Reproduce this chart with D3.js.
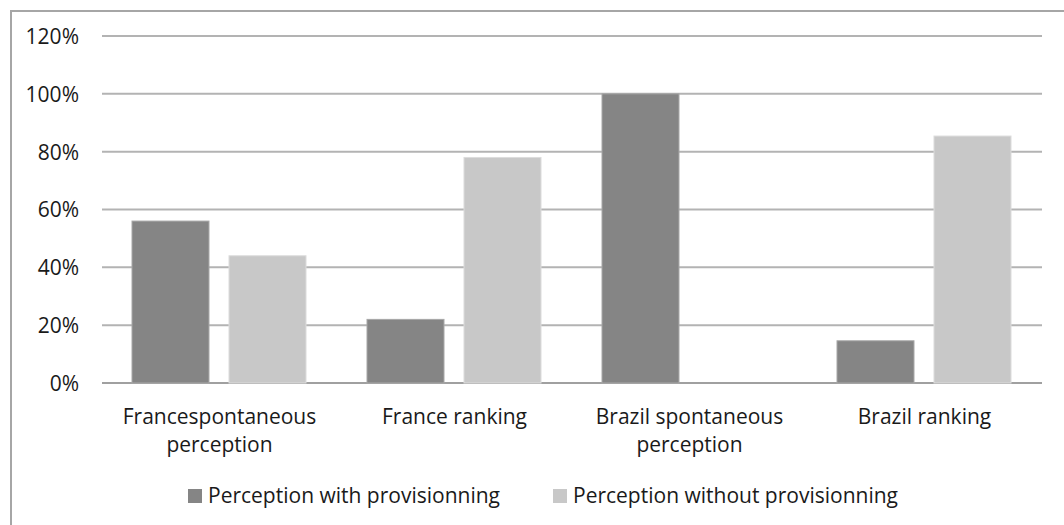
<!DOCTYPE html>
<html>
<head>
<meta charset="utf-8">
<script src="https://cdn.jsdelivr.net/npm/d3@7"></script>
<style>
html,body{margin:0;padding:0;background:#fff;}
svg{display:block;}
text{font-family:"Open Sans","Liberation Sans",sans-serif;fill:#1a1a1a;}
</style>
</head>
<body>
<svg id="chart" width="1064" height="525"></svg>
<script>
const categories = [["Francespontaneous","perception"],["France ranking"],["Brazil spontaneous","perception"],["Brazil ranking"]];
const withProv = [0.56, 0.22, 1.00, 0.146];
const withoutProv = [0.44, 0.78, 0.0, 0.854];
const seriesNames = ["Perception with provisionning","Perception without provisionning"];
const yTicks = [0,0.2,0.4,0.6,0.8,1.0,1.2];

(function(){
const svg = d3.select("#chart");
const colors = ["#858585","#c8c8c8"];
const strokes = ["#a8a8a8","#dcdcdc"];
const fs = 21;

// outer frame
svg.append("rect").attr("x",11).attr("y",11).attr("width",1080).attr("height",540)
  .attr("fill","none").attr("stroke","#a6a6a6").attr("stroke-width",2);

const pl=102, pr=1042, pt=36, pb=383;
const x = d3.scaleBand().domain(d3.range(categories.length)).range([pl,pr]).paddingInner(0).paddingOuter(0);
const y = d3.scaleLinear().domain([0,1.2]).range([pb,pt]);

// gridlines
svg.append("g").selectAll("line").data(yTicks).join("line")
  .attr("x1",pl).attr("x2",pr).attr("y1",d=>y(d)).attr("y2",d=>y(d))
  .attr("stroke",d=>d===0?"#a0a0a0":"#b3b3b3").attr("stroke-width",2);

// y axis labels
const yAxis = d3.axisLeft(y).tickValues(yTicks).tickFormat(d3.format(".0%")).tickSize(0).tickPadding(0);
const ga = svg.append("g").attr("transform",`translate(79,0)`).call(yAxis);
ga.select(".domain").remove();
ga.selectAll("text").attr("font-size",fs).attr("font-family","'Open Sans','Liberation Sans',sans-serif").attr("fill","#1a1a1a").attr("dy","0.35em");

const bw = x.bandwidth();
const barW = bw*77/235, off1 = bw*30/235, off2 = bw*127/235;
const series = [withProv, withoutProv];
series.forEach((vals,si)=>{
  svg.append("g").selectAll("rect").data(vals).join("rect")
    .attr("x",(d,i)=>x(i)+(si===0?off1:off2))
    .attr("y",d=>y(d))
    .attr("width",barW)
    .attr("height",d=>pb-y(d))
    .attr("fill",colors[si])
    .attr("stroke",d=>d>0?strokes[si]:"none").attr("stroke-width",1);
});

// category labels
const cl = svg.append("g");
categories.forEach((lines,i)=>{
  const t = cl.append("text").attr("x",x(i)+bw/2).attr("y",424).attr("text-anchor","middle").attr("font-size",fs);
  lines.forEach((ln,j)=>t.append("tspan").attr("x",x(i)+bw/2).attr("dy",j===0?0:28).text(ln));
});

// legend
const legX = [188,553];
seriesNames.forEach((n,i)=>{
  svg.append("rect").attr("x",legX[i]).attr("y",489).attr("width",14).attr("height",14).attr("fill",colors[i]);
  svg.append("text").attr("x",legX[i]+20).attr("y",503).attr("font-size",fs).text(n);
});
})();
</script>
</body>
</html>
